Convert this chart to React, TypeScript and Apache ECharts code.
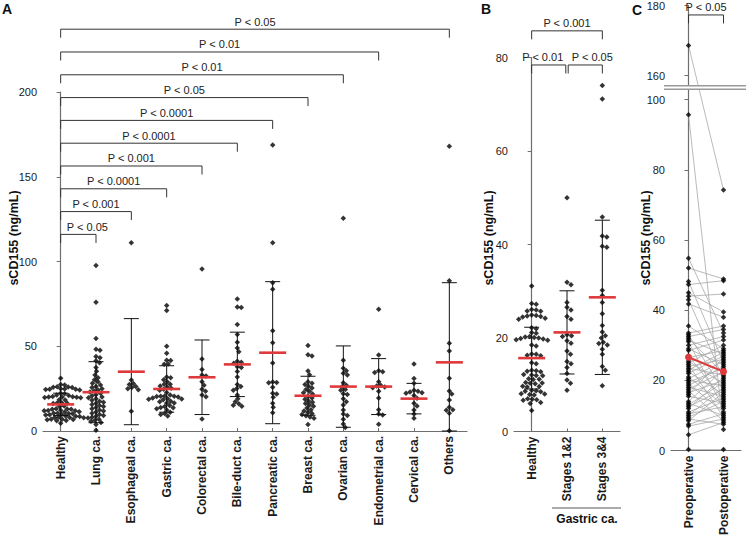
import React, { useEffect, useRef } from "react";
import * as echarts from "echarts";

const FONT = "'Liberation Sans', Arial, Helvetica, sans-serif";

// ---------- categories ----------
const categoriesA = [
  "Healthy", "Lung ca.", "Esophageal ca.", "Gastric ca.", "Colorectal ca.", "Bile-duct ca.",
  "Pancreatic ca.", "Breast ca.", "Ovarian ca.", "Endometrial ca.", "Cervical ca.", "Others",
];
const categoriesB = ["Healthy", "Stages 1&2", "Stages 3&4"];
const categoriesC = ["Preoperative", "Postoperative"];

// ---------- values (ng/mL) ----------
const healthy = [
  31.1, 27.4, 27.2, 26.1, 26.0, 25.8, 25.7, 24.9, 24.8, 24.7, 24.6, 24.5, 24.2, 24.0, 22.2, 22.0,
  21.2, 21.0, 20.3, 20.2, 20.1, 20.0, 19.9, 19.8, 19.6, 19.5, 18.5, 18.3, 16.6, 16.5, 16.3, 16.2,
  14.7, 14.5, 13.1, 13.0, 12.9, 12.8, 12.2, 12.1, 12.0, 11.9, 11.3, 11.2, 11.1, 10.5, 10.4, 10.3,
  10.2, 9.7, 9.6, 9.5, 8.8, 8.7, 8.6, 8.5, 8.1, 8.0, 7.9, 7.8, 7.0, 6.9, 6.8, 6.7, 6.2, 6.0, 4.5,
];
const lung = [
  97.7, 75.9, 54.5, 48.2, 47.6, 43.9, 43.2, 41.5, 40.2, 37.5, 35.2, 33.0, 31.4, 30.2, 29.0, 28.1,
  27.2, 26.3, 25.6, 25.0, 24.2, 23.6, 23.0, 22.3, 21.4, 20.8, 20.1, 19.6, 19.0, 18.2, 17.6, 17.0,
  16.3, 15.7, 15.1, 14.4, 13.8, 13.1, 12.4, 11.8, 11.2, 10.5, 9.8, 9.2, 8.7, 8.1, 7.6, 7.0, 6.4,
  5.8, 5.0, 3.9, 0.4,
];
const esophageal = [111.1, 30.1, 28.0, 27.5, 26.2, 25.6, 25.0, 24.4, 11.6];
const stage12 = [
  50.0, 31.9, 31.4, 27.6, 26.6, 26.0, 24.6, 24.0, 20.7, 20.5, 20.3, 19.4, 18.9, 17.2, 16.5, 15.0,
  14.5, 13.7, 12.4, 11.0, 10.3, 8.8,
];
const stage34 = [
  74.0, 71.1, 45.9, 41.8, 41.6, 39.6, 39.4, 30.2, 29.1, 27.6, 25.2, 22.7, 21.3, 20.5, 20.0, 19.1,
  18.8, 18.5, 17.6, 16.5, 13.9, 13.1, 9.8,
];
const gastric = [...stage12, ...stage34];
const colorectal = [95.6, 42.5, 36.3, 33.0, 32.4, 29.1, 27.0, 24.6, 23.4, 21.2, 20.2, 7.1];
const bileDuct = [
  77.9, 73.2, 72.8, 62.9, 57.0, 52.3, 49.0, 46.8, 41.2, 40.6, 40.0, 37.9, 37.4, 35.1, 31.8, 27.4,
  26.2, 25.1, 24.0, 21.3, 19.0, 17.2, 16.1, 15.2, 14.6,
];
const pancreatic = [
  168.7, 111.1, 87.5, 83.6, 59.2, 52.1, 40.1, 28.9, 28.6, 28.4, 25.8, 22.2, 21.8, 19.9, 16.3, 14.0, 10.8,
];
const breast = [
  50.5, 45.0, 44.2, 35.4, 33.2, 29.0, 28.2, 27.5, 26.4, 25.3, 24.5, 23.4, 22.6, 21.8, 20.4, 19.5,
  18.8, 17.7, 16.9, 16.2, 15.4, 14.6, 13.5, 12.6, 11.8, 11.0, 10.3, 9.7, 9.0, 8.2, 7.5, 3.9,
];
const ovarian = [
  125.5, 41.7, 37.0, 35.5, 34.0, 33.0, 28.5, 27.0, 26.2, 24.5, 24.0, 22.0, 21.5, 19.0, 17.3, 15.3,
  12.4, 10.0, 9.2, 6.9, 4.1, 2.0,
];
const endometrial = [71.8, 44.8, 35.5, 35.0, 34.5, 29.0, 27.0, 26.5, 26.0, 25.5, 23.5, 19.5, 12.5, 10.0, 9.5, 4.0];
const cervical = [39.5, 30.9, 28.1, 24.0, 23.5, 23.0, 22.5, 22.2, 21.0, 19.3, 16.3, 14.7, 12.4, 10.0, 7.5];
const others = [168.0, 88.7, 51.7, 47.2, 31.1, 23.6, 21.8, 18.3, 14.0, 12.6, 12.3, 10.4, 0.2];

const groupsA = [healthy, lung, esophageal, gastric, colorectal, bileDuct, pancreatic, breast, ovarian, endometrial, cervical, others];
const meanA = [15.7, 22.9, 35.0, 24.8, 31.7, 39.3, 46.2, 20.8, 26.2, 26.2, 19.1, 40.5];
const sdA = [6.6, 18.0, 31.3, 13.7, 22.0, 19.0, 41.9, 11.5, 24.0, 16.5, 9.0, 47.0];

const groupsB = [healthy, stage12, stage34];
const meanB = [15.7, 21.2, 28.7];
const sdB = [6.6, 8.9, 16.5];

// paired pre-/post-operative values (same patient at same index)
const preop = [
  168.6, 95.7, 54.8, 52.0, 48.2, 47.3, 45.0, 44.0, 43.0, 41.8, 35.5, 33.5, 33.0, 32.5, 32.0, 31.5,
  31.0, 30.0, 29.0, 28.5, 27.0, 26.5, 25.5, 25.0, 24.5, 24.0, 23.5, 23.0, 22.5, 22.0, 21.0, 20.5,
  20.0, 19.5, 19.0, 18.5, 18.0, 17.5, 17.0, 16.5, 16.0, 15.5, 14.0, 13.5, 13.0, 12.5, 12.0, 11.0,
  10.5, 10.0, 9.5, 9.0, 8.5, 7.5, 7.0, 4.5, 0.3,
];
const postop = [
  74.2, 6.0, 33.5, 48.9, 25.0, 48.4, 39.5, 44.6, 20.5, 38.0, 29.0, 35.5, 17.0, 34.5, 22.0, 27.5,
  12.0, 32.5, 24.5, 31.5, 14.5, 28.5, 19.0, 30.0, 9.5, 26.0, 21.5, 28.0, 16.0, 27.0, 13.0, 25.5,
  18.5, 23.5, 11.0, 24.0, 15.5, 22.5, 8.5, 20.0, 26.5, 13.5, 23.0, 10.0, 19.5, 17.5, 21.0, 15.0,
  12.5, 18.0, 14.0, 7.5, 16.5, 10.5, 9.0, 8.0, 0.3,
];
const meanC = [26.6, 22.5];

// ---------- significance brackets ----------
const bracketToA = [1, 2, 3, 4, 5, 6, 7, 8, 9, 11];
const bracketLabelA = ["P < 0.05", "P < 0.001", "P < 0.0001", "P < 0.001", "P < 0.0001", "P < 0.0001", "P < 0.05", "P < 0.01", "P < 0.01", "P < 0.05"];
const bracketFromB = [0, 0, 1];
const bracketToB = [2, 1, 2];
const bracketLevelB = [85.7, 78.4, 78.4];
const bracketLabelB = ["P < 0.001", "P < 0.01", "P < 0.05"];
const bracketLabelC = ["P < 0.05"];
const bracketLevelC = [177.3];

// ---------- axis ticks ----------
const ticksA = [0, 50, 100, 150, 200];
const ticksB = [0, 20, 40, 60, 80];
const ticksCLow = [0, 20, 40, 60, 80, 100];
const ticksCHigh = [160, 180];

// ---------- layout constants ----------
const GA = { left: 43, top: 92, width: 424, height: 339 };
const GB = { left: 514, top: 57.5, width: 106, height: 374 };
const C_UNIT = 362 / 103;
const GC_LOW = { left: 671, top: 89, width: 70, height: 362 };
const C_LOW_MAX = 103;
const C_HIGH_MIN = 157;
const C_HIGH_MAX = 180;
const GC_HIGH = { left: 671, top: 89 - 3 - (C_HIGH_MAX - C_HIGH_MIN) * C_UNIT, width: 70, height: (C_HIGH_MAX - C_HIGH_MIN) * C_UNIT };
const BREAK_GAP = 3;

const AXIS_COLOR = "#6e6e6e";
const LABEL_COLOR = "#1a1a1a";
const DOT = "#000";
const RED = "#e0393b";

function swarm(vals: number[], pxY: number, d: number): number[] {
  const order = vals.map((_, i) => i).sort((a, b) => vals[b] - vals[a]);
  const placed: { x: number; y: number }[] = [];
  const out = new Array(vals.length).fill(0);
  for (const i of order) {
    const y = vals[i] * pxY;
    let best = 0;
    for (let k = 0; k < 600; k++) {
      const cand = (k % 2 === 1 ? 1 : -1) * Math.ceil(k / 2) * 0.5;
      if (placed.every((p) => (p.x - cand) ** 2 + (p.y - y) ** 2 >= d * d)) {
        best = cand;
        break;
      }
    }
    placed.push({ x: best, y });
    out[i] = best;
  }
  return out;
}

function swarmData(groups: number[][], pxX: number, pxY: number, d: number) {
  const data: number[][] = [];
  groups.forEach((g, i) => {
    const off = swarm(g, pxY, d);
    g.forEach((v, j) => data.push([i + off[j] / pxX, v]));
  });
  return data;
}

function errorBars(xi: number, yi: number, means: number[], sds: number[]) {
  return {
    type: "custom",
    xAxisIndex: xi,
    yAxisIndex: yi,
    clip: false,
    z: 3,
    data: means.map((m, i) => [i, m, sds[i]]),
    renderItem: (_p: any, api: any) => {
      const x = api.value(0);
      const m = api.value(1);
      const s = api.value(2);
      const hi = api.coord([x, m + s]);
      const lo = api.coord([x, Math.max(0, m - s)]);
      const c = 7.5;
      const st = { stroke: "#111", lineWidth: 1 };
      return {
        type: "group",
        children: [
          { type: "line", shape: { x1: hi[0], y1: hi[1], x2: lo[0], y2: lo[1] }, style: st },
          { type: "line", shape: { x1: hi[0] - c, y1: hi[1], x2: hi[0] + c, y2: hi[1] }, style: st },
          { type: "line", shape: { x1: lo[0] - c, y1: lo[1], x2: lo[0] + c, y2: lo[1] }, style: st },
        ],
      };
    },
  };
}

function meanLines(xi: number, yi: number, means: number[]) {
  return {
    type: "custom",
    xAxisIndex: xi,
    yAxisIndex: yi,
    clip: false,
    z: 5,
    data: means.map((m, i) => [i, m]),
    renderItem: (_p: any, api: any) => {
      const p = api.coord([api.value(0), api.value(1)]);
      return {
        type: "line",
        shape: { x1: p[0] - 13.5, y1: p[1], x2: p[0] + 13.5, y2: p[1] },
        style: { stroke: RED, lineWidth: 2.6 },
      };
    },
  };
}

function brackets(
  xi: number, yi: number, from: number[], to: number[], levels: number[], labels: string[],
  insetL: number[], insetR: number[], shift: number[]
) {
  return {
    type: "custom",
    xAxisIndex: xi,
    yAxisIndex: yi,
    clip: false,
    z: 4,
    data: from.map((f, i) => [f, to[i], levels[i]]),
    renderItem: (params: any, api: any) => {
      const i = params.dataIndex;
      const p1 = api.coord([api.value(0), api.value(2)]);
      const p2 = api.coord([api.value(1), api.value(2)]);
      const a = p1[0] + insetL[i];
      const b = p2[0] - insetR[i];
      const y = p1[1];
      const drop = 8.5;
      return {
        type: "group",
        children: [
          {
            type: "polyline",
            shape: { points: [[a, y + drop], [a, y], [b, y], [b, y + drop]] },
            style: { stroke: "#333", lineWidth: 1, fill: "none" },
          },
          {
            type: "text",
            x: (a + b) / 2 + shift[i],
            y: y - 2,
            style: {
              text: labels[i], fill: "#222", fontSize: 11, fontFamily: FONT,
              textAlign: "center", textVerticalAlign: "bottom",
            },
          },
        ],
      };
    },
  };
}

function mapC(api: any, x: number, v: number) {
  if (v <= C_LOW_MAX) return api.coord([x, v]);
  const top = api.coord([x, C_LOW_MAX]);
  const unit = api.size([0, 1])[1];
  return [top[0], top[1] - BREAK_GAP - (v - C_HIGH_MIN) * unit];
}

const yTitle = (x: number) => ({
  type: "text",
  x,
  y: 238,
  rotation: Math.PI / 2,
  style: {
    text: "sCD155 (ng/mL)", fill: "#111", fontSize: 12.5, fontWeight: "bold", fontFamily: FONT,
    textAlign: "center", textVerticalAlign: "middle",
  },
});

const panelLabel = (text: string, x: number, y: number) => ({
  type: "text",
  x,
  y,
  style: { text, fill: "#111", fontSize: 14, fontWeight: "bold", fontFamily: FONT, textAlign: "left", textVerticalAlign: "top" },
});

function catAxis(gridIndex: number, data: string[], show = true) {
  return {
    type: "category",
    gridIndex,
    data,
    show,
    axisLine: { show: true, lineStyle: { color: AXIS_COLOR, width: 1.2 } },
    axisTick: { show: true, inside: true, length: 3, alignWithLabel: true, lineStyle: { color: AXIS_COLOR } },
    axisLabel: {
      rotate: 90, interval: 0, margin: 5, color: LABEL_COLOR, fontSize: 12, fontWeight: "bold", fontFamily: FONT,
    },
    splitLine: { show: false },
  };
}

function valXAxis(gridIndex: number, n: number) {
  return { type: "value", gridIndex, min: -0.5, max: n - 0.5, show: false, splitLine: { show: false } };
}

function valYAxis(gridIndex: number, min: number, max: number, ticks: number[]) {
  return {
    type: "value",
    gridIndex,
    min,
    max,
    axisLine: { show: true, lineStyle: { color: AXIS_COLOR, width: 1.2 } },
    axisTick: { show: true, length: 4, customValues: ticks, lineStyle: { color: AXIS_COLOR } },
    axisLabel: { customValues: ticks, margin: 6, color: LABEL_COLOR, fontSize: 11, fontFamily: FONT },
    splitLine: { show: false },
  };
}

export default function App() {
  const ref = useRef<HTMLDivElement>(null);
  useEffect(() => {
    if (!ref.current) return;
    const chart = echarts.init(ref.current, undefined, { renderer: "svg" });

    const pxXA = GA.width / categoriesA.length;
    const pxYA = GA.height / 200;
    const pxXB = GB.width / categoriesB.length;
    const pxYB = GB.height / 80;

    const scatterA = swarmData(groupsA, pxXA, pxYA, 3.9);
    const scatterB = swarmData(groupsB, pxXB, pxYB, 4.5);

    const lowC: number[][] = [];
    const highC: number[][] = [];
    [preop, postop].forEach((arr, x) =>
      arr.forEach((v) => (v > C_LOW_MAX ? highC : lowC).push([x, v]))
    );

    const option: any = {
      animation: false,
      textStyle: { fontFamily: FONT, color: LABEL_COLOR },
      grid: [
        { ...GA, containLabel: false },
        { ...GB, containLabel: false },
        { ...GC_HIGH, containLabel: false },
        { ...GC_LOW, containLabel: false },
      ],
      xAxis: [
        catAxis(0, categoriesA),
        valXAxis(0, categoriesA.length),
        catAxis(1, categoriesB),
        valXAxis(1, categoriesB.length),
        catAxis(2, categoriesC, false),
        valXAxis(2, categoriesC.length),
        catAxis(3, categoriesC),
        valXAxis(3, categoriesC.length),
      ],
      yAxis: [
        valYAxis(0, 0, 200, ticksA),
        valYAxis(1, 0, 80, ticksB),
        valYAxis(2, C_HIGH_MIN, C_HIGH_MAX, ticksCHigh),
        valYAxis(3, 0, C_LOW_MAX, ticksCLow),
      ],
      series: [
        // Panel A
        {
          type: "scatter", xAxisIndex: 1, yAxisIndex: 0, symbol: "diamond", symbolSize: 5.5,
          itemStyle: { color: DOT }, data: scatterA, z: 2,
        },
        errorBars(1, 0, meanA, sdA),
        meanLines(1, 0, meanA),
        brackets(
          1, 0,
          bracketToA.map(() => 0),
          bracketToA,
          bracketToA.map((_, k) => 116 + k * 13.45),
          bracketLabelA,
          bracketToA.map(() => 0),
          bracketToA.map(() => 0),
          bracketToA.map((_, k) => (k === 0 ? 9 : 0))
        ),
        // Panel B
        {
          type: "scatter", xAxisIndex: 3, yAxisIndex: 1, symbol: "diamond", symbolSize: 5.5,
          itemStyle: { color: DOT }, data: scatterB, z: 2,
        },
        errorBars(3, 1, meanB, sdB),
        meanLines(3, 1, meanB),
        brackets(3, 1, bracketFromB, bracketToB, bracketLevelB, bracketLabelB, [0, 0, 1.2], [0, 1.2, 0], [0, -6, 7]),
        // Panel C: paired lines
        {
          type: "custom", xAxisIndex: 7, yAxisIndex: 3, clip: false, z: 1,
          data: preop.map((p, i) => [0, p, postop[i]]),
          renderItem: (_p: any, api: any) => {
            const a = mapC(api, 0, api.value(1));
            const b = mapC(api, 1, api.value(2));
            return {
              type: "line",
              shape: { x1: a[0], y1: a[1], x2: b[0], y2: b[1] },
              style: { stroke: "#a8a8a8", lineWidth: 0.8 },
            };
          },
        },
        {
          type: "scatter", xAxisIndex: 7, yAxisIndex: 3, symbol: "diamond", symbolSize: 5.5,
          itemStyle: { color: DOT }, data: lowC, z: 3,
        },
        {
          type: "scatter", xAxisIndex: 5, yAxisIndex: 2, symbol: "diamond", symbolSize: 5.5,
          itemStyle: { color: DOT }, data: highC, z: 3,
        },
        {
          type: "line", xAxisIndex: 7, yAxisIndex: 3, z: 6,
          data: meanC.map((m, i) => [i, m]),
          symbol: "circle", symbolSize: 7,
          lineStyle: { color: RED, width: 2 },
          itemStyle: { color: RED },
        },
        brackets(5, 2, [0], [1], bracketLevelC, bracketLabelC, [0], [0], [0]),
      ],
      graphic: [
        panelLabel("A", 2, 2),
        panelLabel("B", 481, 2),
        panelLabel("C", 632, 3),
        yTitle(14),
        yTitle(489),
        yTitle(646),
        // axis break in panel C
        { type: "rect", shape: { x: 664, y: 86, width: 82, height: 3 }, style: { fill: "#fff" }, z: 50 },
        { type: "line", shape: { x1: 664, y1: 85.7, x2: 746, y2: 85.7 }, style: { stroke: "#9a9a9a", lineWidth: 1.4 }, z: 51 },
        { type: "line", shape: { x1: 664, y1: 89.3, x2: 746, y2: 89.3 }, style: { stroke: "#9a9a9a", lineWidth: 1.4 }, z: 51 },
        // Gastric ca. group label in panel B
        { type: "line", shape: { x1: 552, y1: 508, x2: 621, y2: 508 }, style: { stroke: "#555", lineWidth: 1 } },
        {
          type: "text", x: 587, y: 513,
          style: {
            text: "Gastric ca.", fill: "#111", fontSize: 12, fontWeight: "bold", fontFamily: FONT,
            textAlign: "center", textVerticalAlign: "top",
          },
        },
      ],
    };

    chart.setOption(option);
    return () => chart.dispose();
  }, []);

  return (
    <div
      ref={ref}
      style={{ position: "absolute", left: 0, top: 0, width: 746, height: 538, background: "#fff" }}
    />
  );
}
